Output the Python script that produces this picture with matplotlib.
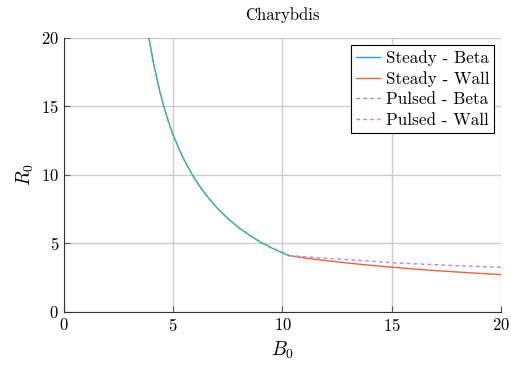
import numpy as np
import matplotlib.pyplot as plt

plt.rcParams['font.family'] = 'serif'
plt.rcParams['font.serif'] = ['cmr10']
plt.rcParams['mathtext.fontset'] = 'cm'
plt.rcParams['axes.formatter.use_mathtext'] = True

# values
b_beta = [3.89, 4.0, 4.1, 4.25, 4.4, 4.58, 4.8, 5.0, 5.25, 5.5, 5.86, 6.2, 6.5,
          7.0, 7.5, 8.0, 8.5, 8.97, 9.5, 10.0, 10.3]
r_beta = [20.0, 19.0, 18.15, 17.05, 16.0, 14.95, 13.8, 12.9, 11.95, 11.1, 10.05, 9.2, 8.55,
          7.6, 6.82, 6.15, 5.6, 5.12, 4.68, 4.32, 4.12]

b_wall = [10.3, 11, 12, 13, 14, 15, 16, 17, 18, 19, 20]
r_wall_steady = [4.12, 3.95, 3.75, 3.57, 3.41, 3.27, 3.14, 3.02, 2.92, 2.82, 2.73]
r_wall_pulsed = [4.12, 4.03, 3.92, 3.82, 3.71, 3.60, 3.52, 3.45, 3.38, 3.32, 3.26]

fig = plt.figure(figsize=(5.11, 3.67), dpi=100)
ax = fig.add_axes([0.1252, 0.1499, 0.8552, 0.7466])

ax.plot(b_beta, r_beta, '-', color='#1ea0f0', lw=1.0, label='Steady - Beta')
ax.plot(b_wall, r_wall_steady, '-', color='#e8643c', lw=1.0, label='Steady - Wall')
ax.plot(b_beta, r_beta, '--', color='#5cb85c', lw=1.0, dashes=(2.5, 2.5), label='Pulsed - Beta')
ax.plot(b_wall, r_wall_pulsed, '--', color='#c878e0', lw=1.0, dashes=(2.5, 2.5), label='Pulsed - Wall')

ax.set_xlim(0, 20)
ax.set_ylim(0, 20)
ax.set_xticks([0, 5, 10, 15, 20])
ax.set_yticks([0, 5, 10, 15, 20])
ax.grid(True, color='#cccccc', lw=1.0)
ax.set_axisbelow(True)
for s in ['top', 'right']:
    ax.spines[s].set_visible(False)
for s in ['left', 'bottom']:
    ax.spines[s].set_color('#333333')
ax.tick_params(direction='in', length=4, labelsize=12, top=False, right=False, color='#555555')

ax.set_xlabel('$B_0$', fontsize=14)
ax.set_ylabel('$R_0$', fontsize=14)
ax.set_title('Charybdis', fontsize=12, pad=13)

leg = ax.legend(loc='upper right', fontsize=12.3, handlelength=1.4, handletextpad=0.3,
                labelspacing=0.3, borderpad=0.3, borderaxespad=0.4, fancybox=False,
                framealpha=1)
leg.get_frame().set_edgecolor('black')
leg.get_frame().set_linewidth(0.8)

fig.savefig('out.png', dpi=100)
